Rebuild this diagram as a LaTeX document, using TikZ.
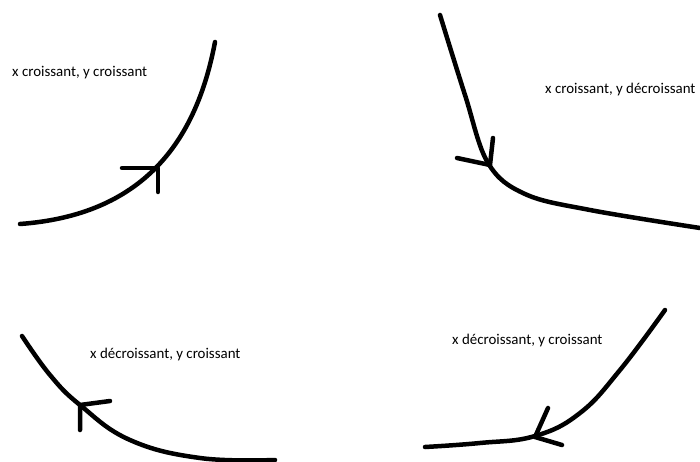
\documentclass[tikz,border=0pt]{standalone}
\usepackage{fontspec}
\setmainfont{Carlito}
\begin{document}
\begin{tikzpicture}[x=1pt,y=-1pt,
  curve/.style={line width=4.5pt,line cap=round,line join=round},
  lbl/.style={font=\fontsize{14.9}{16}\selectfont,inner sep=0pt,anchor=west}]
\useasboundingbox (0,0) rectangle (700,462);
% top-left
\coordinate (a1) at (20,224);
\coordinate (a2) at (215,42);
\draw[curve] (a1) .. controls (142,215) and (196,143) .. (a2);
\draw[curve] (122,168) -- (158,168) -- (158,192);
\node[lbl] (t1) at (12,73) {x croissant, y croissant};
% top-right
\draw[curve] plot[smooth,tension=0.6] coordinates {(440,15) (465,95) (488,163) (525,194) (590,210) (700,228)};
\draw[curve] (457,158) -- (490,165) -- (493,138);
\node[lbl] (t2) at (545,90) {x croissant, y décroissant};
% bottom-left
\draw[curve] plot[smooth,tension=0.7] coordinates {(22,336) (50,375) (80,405) (130,440) (200,458) (275,460)};
\draw[curve] (110,401) -- (80,405) -- (80,430);
\node[lbl] (t3) at (90,355) {x décroissant, y croissant};
% bottom-right
\draw[curve] plot[smooth,tension=0.7] coordinates {(665,310) (620,370) (580,413) (535,436) (480,443) (425,447)};
\draw[curve] (548,408) -- (535,437) -- (562,445);
\node[lbl] (t4) at (452,341) {x décroissant, y croissant};
\end{tikzpicture}
\end{document}
